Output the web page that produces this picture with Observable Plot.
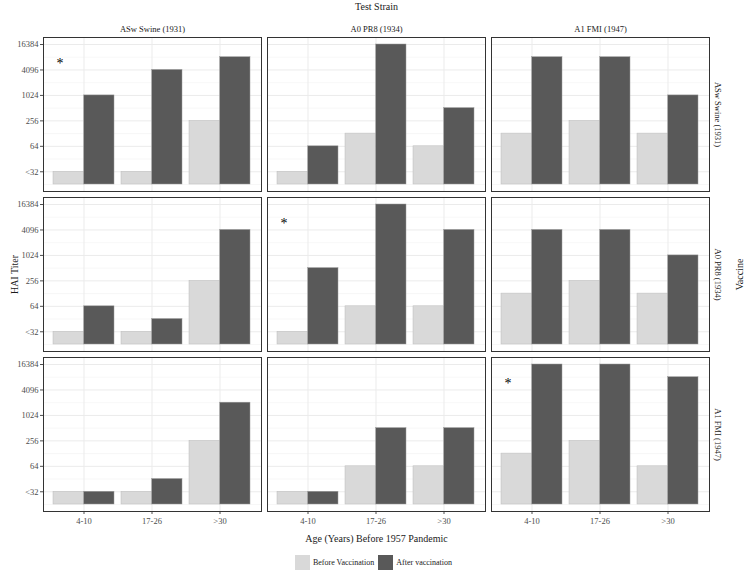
<!DOCTYPE html>
<html><head><meta charset="utf-8">
<script src="https://cdn.jsdelivr.net/npm/d3@7"></script>
<script src="https://cdn.jsdelivr.net/npm/@observablehq/plot@0.6"></script>
<style>
body{margin:0;background:#fff;font-family:"Liberation Serif",serif;}
#legend{display:flex;justify-content:center;align-items:center;height:20px;margin-top:2px;font-size:8px;color:#1a1a1a;}
#legend .sw{display:inline-block;width:15px;height:15px;margin-right:3px;}
#legend .item{display:flex;align-items:center;margin:0 2px;}
g[aria-label$="axis label"] text{font-size:10px;fill:#1a1a1a;font-weight:normal;}
g[aria-label="fx-axis tick label"] text, g[aria-label="fy-axis tick label"] text{fill:#1a1a1a;}
</style></head><body><div id="chart"></div><div id="legend"></div>
<script>
const strains = ["ASw Swine (1931)", "A0 PR8 (1934)", "A1 FMI (1947)"];
const ages = ["4-10", "17-26", ">30"];
const statuses = ["Before Vaccination", "After vaccination"];
const statusColors = ["#d9d9d9", "#595959"];
const yTicks = [4, 6, 8, 10, 12, 14];
const yTickLabels = ["<32", "64", "256", "1024", "4096", "16384"];
const yMinor = [3, 5, 7, 9, 11, 13];
const barBase = 3;
// log2 HAI titer; [vaccine][test strain][age]
const before = [
  [[4, 4, 8], [4, 7, 6], [7, 8, 7]],
  [[4, 4, 8], [4, 6, 6], [7, 8, 7]],
  [[4, 4, 8], [4, 6, 6], [7, 8, 6]]
];
const after = [
  [[10, 12, 13], [6, 14, 9], [13, 13, 10]],
  [[6, 5, 12], [9, 14, 12], [12, 12, 10]],
  [[4, 5, 11], [4, 9, 9], [14, 14, 13]]
];
const starPanels = [0, 1, 2]; // diagonal: vaccine == test strain
const starAge = "4-10";
const starLevel = 12.5;

const rows = [];
strains.forEach((v, vi) => strains.forEach((t, ti) => ages.forEach((a, ai) => {
  rows.push({vaccine: v, test: t, age: a, before: before[vi][ti][ai], after: after[vi][ti][ai]});
})));
const stars = starPanels.map(i => ({vaccine: strains[i], test: strains[i], age: starAge, y: starLevel}));

const W = 747, H = 550, mL = 43, mR = 37, mT = 36, mB = 37;
const fxPad = 0.026, fyPad = 0.037;
const panelW = (W - mL - mR) / (3 - fxPad) * (1 - fxPad);
const xStep = panelW / (3 - 0.1 + 0.3);
const half = xStep * 0.9 / 2;

const chart = Plot.plot({
  width: W, height: H,
  marginLeft: mL, marginRight: mR, marginTop: mT, marginBottom: mB,
  style: {fontFamily: "Liberation Serif, serif", fontSize: "8.5px", color: "#4d4d4d", background: "#fff"},
  fx: {domain: strains, label: "Test Strain", paddingInner: fxPad, paddingOuter: 0, axis: "top", tickSize: 0, tickPadding: 6, labelAnchor: "center", labelOffset: 35, labelArrow: "none"},
  fy: {domain: strains, label: "Vaccine", paddingInner: fyPad, paddingOuter: 0, axis: "right", tickRotate: 90, tickSize: 0, tickPadding: 12, labelAnchor: "center", labelOffset: 33, labelArrow: "none"},
  x: {domain: ages, paddingInner: 0.1, paddingOuter: 0.15, label: "Age (Years) Before 1957 Pandemic", labelAnchor: "center", labelOffset: 30, tickSize: 3, tickPadding: 3, labelArrow: "none"},
  y: {domain: [2.45, 14.55], ticks: yTicks, tickFormat: d => yTickLabels[yTicks.indexOf(d)], label: "HAI Titer", labelAnchor: "center", labelOffset: 33, tickSize: 3, tickPadding: 2, labelArrow: "none"},
  marks: [
    Plot.ruleY(yMinor, {stroke: "#f2f2f2", strokeWidth: 0.6}),
    Plot.ruleY(yTicks, {stroke: "#ebebeb", strokeWidth: 1}),
    Plot.ruleX(ages, {x: d => d, stroke: "#ebebeb", strokeWidth: 1}),
    Plot.barY(rows, {fx: "test", fy: "vaccine", x: "age", y1: barBase, y2: "before", fill: statusColors[0], stroke: "#bdbdbd", strokeWidth: 0.5, insetRight: half}),
    Plot.barY(rows, {fx: "test", fy: "vaccine", x: "age", y1: barBase, y2: "after", fill: statusColors[1], stroke: "#9a9a9a", strokeWidth: 0.5, insetLeft: half}),
    Plot.text(stars, {fx: "test", fy: "vaccine", x: "age", y: "y", text: () => "*", dx: -24, fontSize: 14, fill: "black"}),
    Plot.frame({stroke: "#333", strokeWidth: 1})
  ]
});
document.getElementById("chart").appendChild(chart);

const lg = document.getElementById("legend");
statuses.forEach((s, i) => {
  const it = document.createElement("span"); it.className = "item";
  const sw = document.createElement("span"); sw.className = "sw"; sw.style.background = statusColors[i];
  it.appendChild(sw); it.appendChild(document.createTextNode(s)); lg.appendChild(it);
});
</script></body></html>
